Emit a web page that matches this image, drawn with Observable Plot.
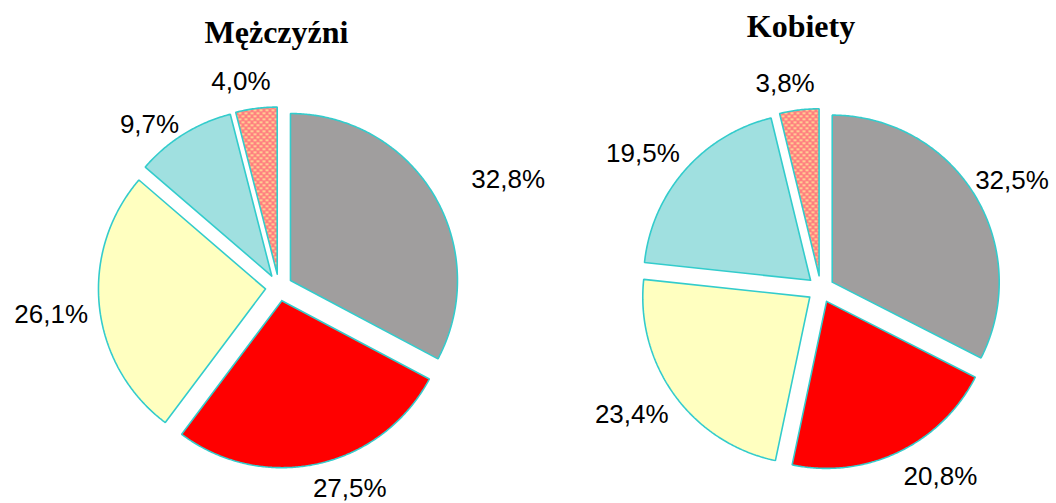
<!DOCTYPE html>
<html><head><meta charset="utf-8">
<script src="https://cdn.jsdelivr.net/npm/d3@7"></script>
<script src="https://cdn.jsdelivr.net/npm/@observablehq/plot@0.6"></script>
<style>html,body{margin:0;padding:0;background:#fff;} #chart svg{display:block;background:#fff}</style>
</head><body><div id="chart"></div>
<script>
// ---- data ----
const groups = ["Mężczyźni", "Kobiety"];
const menShares = [32.8, 27.5, 26.1, 9.7, 4.0];
const womenShares = [32.5, 20.8, 23.4, 19.5, 3.8];

// ---- layout / style ----
const W = 1056, H = 503;
const pieCenters = [[278.4, 287], [820.2, 288.7]];
const R = 167, EXPLODE = 13.5, LABEL_R = 215;
const titlePos = [[276, 42], [800.5, 36]];
const sliceFills = ["url(#pGray)", "#ff0000", "#ffffc0", "#a0e0e0", "url(#pSalmon)"];
const labelNudges = [
  [[45, 3], [24, -9], [-14, 4], [-16, 20], [-11, 7]],
  [[8, 4], [27, -6], [-15, -1], [-16, 6], [-10, 8]]
];

const marks = [];
const labelRows = [];
[menShares, womenShares].forEach((shares, g) => {
  const [cx, cy] = pieCenters[g];
  const total = d3.sum(shares);
  let a0 = 0;
  shares.forEach((v, i) => {
    const a1 = a0 + v / total * 2 * Math.PI;
    const mid = (a0 + a1) / 2;
    const ox = cx + EXPLODE * Math.sin(mid), oy = cy - EXPLODE * Math.cos(mid);
    const pts = [[ox, oy]];
    const n = Math.max(2, Math.ceil((a1 - a0) / (Math.PI / 360)));
    for (let k = 0; k <= n; k++) {
      const a = a0 + (a1 - a0) * k / n;
      pts.push([ox + R * Math.sin(a), oy - R * Math.cos(a)]);
    }
    pts.push([ox, oy]);
    marks.push(Plot.line(pts, {
      x: d => d[0], y: d => d[1],
      fill: sliceFills[i], stroke: "#33cccc", strokeWidth: 1.6,
      strokeLinejoin: "miter"
    }));
    const [nx, ny] = labelNudges[g][i];
    labelRows.push({
      x: cx + LABEL_R * Math.sin(mid) + nx,
      y: cy - LABEL_R * Math.cos(mid) + ny,
      text: v.toFixed(1).replace(".", ",") + "%"
    });
    a0 = a1;
  });
});

const titleRows = groups.map((t, g) => ({x: titlePos[g][0], y: titlePos[g][1], text: t}));

marks.push(Plot.text(labelRows, {
  x: "x", y: "y", text: "text", fontSize: 26,
  fontFamily: "'Liberation Sans', Arial, sans-serif", fill: "#000",
  textAnchor: "middle", lineAnchor: "middle"
}));
marks.push(Plot.text(titleRows, {
  x: "x", y: "y", text: "text", fontSize: 32, fontWeight: "bold",
  fontFamily: "'Liberation Serif', 'Times New Roman', serif", fill: "#000",
  textAnchor: "middle", lineAnchor: "bottom"
}));

const svg = Plot.plot({
  width: W, height: H,
  margin: 0,
  x: {domain: [0, W], range: [0, W], axis: null},
  y: {domain: [0, H], range: [0, H], axis: null},
  marks
});

const ns = "http://www.w3.org/2000/svg";
const defs = document.createElementNS(ns, "defs");
defs.innerHTML = `
<pattern id="pGray" patternUnits="userSpaceOnUse" width="4" height="4">
  <rect x="0" y="0" width="4" height="4" fill="#80a8a8"/>
  <rect x="0" y="0" width="1" height="1" fill="#ff8080"/>
  <rect x="2" y="0" width="1" height="1" fill="#ff8080"/>
  <rect x="1" y="2" width="1" height="1" fill="#ff8080"/>
  <rect x="3" y="2" width="1" height="1" fill="#ff8080"/>
</pattern>
<pattern id="pSalmon" patternUnits="userSpaceOnUse" width="6" height="6">
  <rect x="0" y="0" width="6" height="6" fill="#ff8080"/>
  <rect x="1" y="1" width="3" height="1.5" fill="#ffe699"/>
  <rect x="4" y="4" width="3" height="1.5" fill="#ffe699"/>
  <rect x="-2" y="4" width="3" height="1.5" fill="#ffe699"/>
</pattern>`;
svg.insertBefore(defs, svg.firstChild);
document.getElementById("chart").appendChild(svg);
</script>
</body></html>
